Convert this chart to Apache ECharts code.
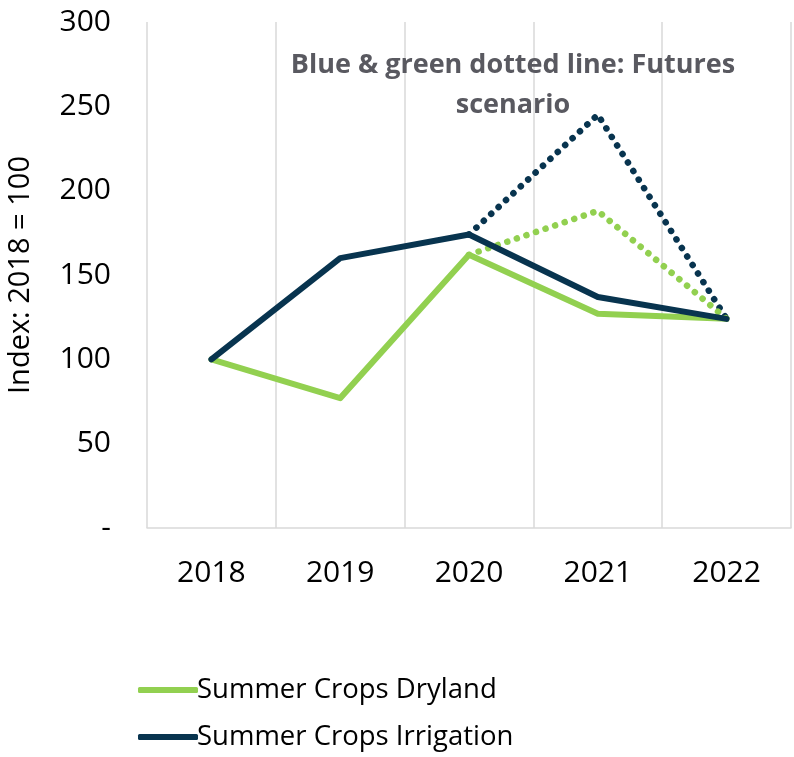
<!DOCTYPE html>
<html>
<head>
<meta charset="utf-8">
<script src="https://cdn.jsdelivr.net/npm/echarts@6/dist/echarts.min.js"></script>
<style>
  html, body { margin: 0; padding: 0; background: #fff; }
  #main { width: 794px; height: 757px; }
</style>
</head>
<body>
<div id="main"></div>
<script>
// values
var years = ['2018', '2019', '2020', '2021', '2022'];
var dryland = [100, 77, 162, 127, 124];
var irrigation = [100, 160, 174, 137, 124];
var drylandFutures = [null, null, 162, 188, 124];
var irrigationFutures = [null, null, 174, 245, 124];

var GREEN = '#92D050';
var NAVY = '#08344F';
var FONT = 'Open Sans';

var myChart = echarts.init(document.getElementById('main'));

var option = {
  animation: false,
  textStyle: { fontFamily: FONT },
  title: {
    text: 'Blue & green dotted line: Futures\nscenario',
    left: 508,
    top: 40,
    textAlign: 'center',
    textStyle: {
      fontFamily: FONT,
      fontSize: 27,
      fontWeight: 'bold',
      color: '#595960',
      lineHeight: 40
    }
  },
  legend: {
    data: ['Summer Crops Dryland', 'Summer Crops Irrigation'],
    orient: 'vertical',
    left: 138,
    top: 676,
    height: 81,
    padding: 0,
    itemWidth: 60,
    itemHeight: 6,
    itemGap: 19,
    icon: 'roundRect',
    textStyle: { fontFamily: FONT, fontSize: 27.5, lineHeight: 28, color: '#000', padding: [0, 0, 0, -6] }
  },
  grid: { left: 147, right: 3, top: 22, bottom: 229, outerBoundsMode: 'none' },
  xAxis: {
    type: 'category',
    data: years,
    boundaryGap: true,
    axisLine: { lineStyle: { color: '#D9D9D9', width: 1.5 } },
    axisTick: { show: false },
    splitLine: { show: true, lineStyle: { color: '#D9D9D9', width: 1.5 } },
    axisLabel: { fontFamily: FONT, fontSize: 30, color: '#000', margin: 30 }
  },
  yAxis: {
    type: 'value',
    min: 0,
    max: 300,
    interval: 50,
    name: 'Index: 2018 = 100',
    nameLocation: 'middle',
    nameGap: 112,
    nameTextStyle: { fontFamily: FONT, fontSize: 29, color: '#000' },
    axisLine: { show: false },
    axisTick: { show: false },
    splitLine: { show: false },
    axisLabel: {
      fontFamily: FONT,
      fontSize: 30,
      color: '#000',
      margin: 36,
      formatter: function (v) { return v === 0 ? '-' : v; }
    }
  },
  series: [
    {
      name: 'Summer Crops Irrigation (futures)',
      type: 'line',
      data: irrigationFutures,
      symbol: 'none',
      lineStyle: { color: NAVY, width: 6.5, type: [0.1, 10], cap: 'round' },
      z: 1
    },
    {
      name: 'Summer Crops Dryland (futures)',
      type: 'line',
      data: drylandFutures,
      symbol: 'none',
      lineStyle: { color: GREEN, width: 6.5, type: [0.1, 10], cap: 'round' },
      z: 1
    },
    {
      name: 'Summer Crops Dryland',
      type: 'line',
      data: dryland,
      symbol: 'none',
      itemStyle: { color: GREEN },
      lineStyle: { color: GREEN, width: 6, cap: 'round', join: 'round' },
      z: 2
    },
    {
      name: 'Summer Crops Irrigation',
      type: 'line',
      data: irrigation,
      symbol: 'none',
      itemStyle: { color: NAVY },
      lineStyle: { color: NAVY, width: 6, cap: 'round', join: 'round' },
      z: 3
    }
  ]
};

myChart.setOption(option);
</script>
</body>
</html>
